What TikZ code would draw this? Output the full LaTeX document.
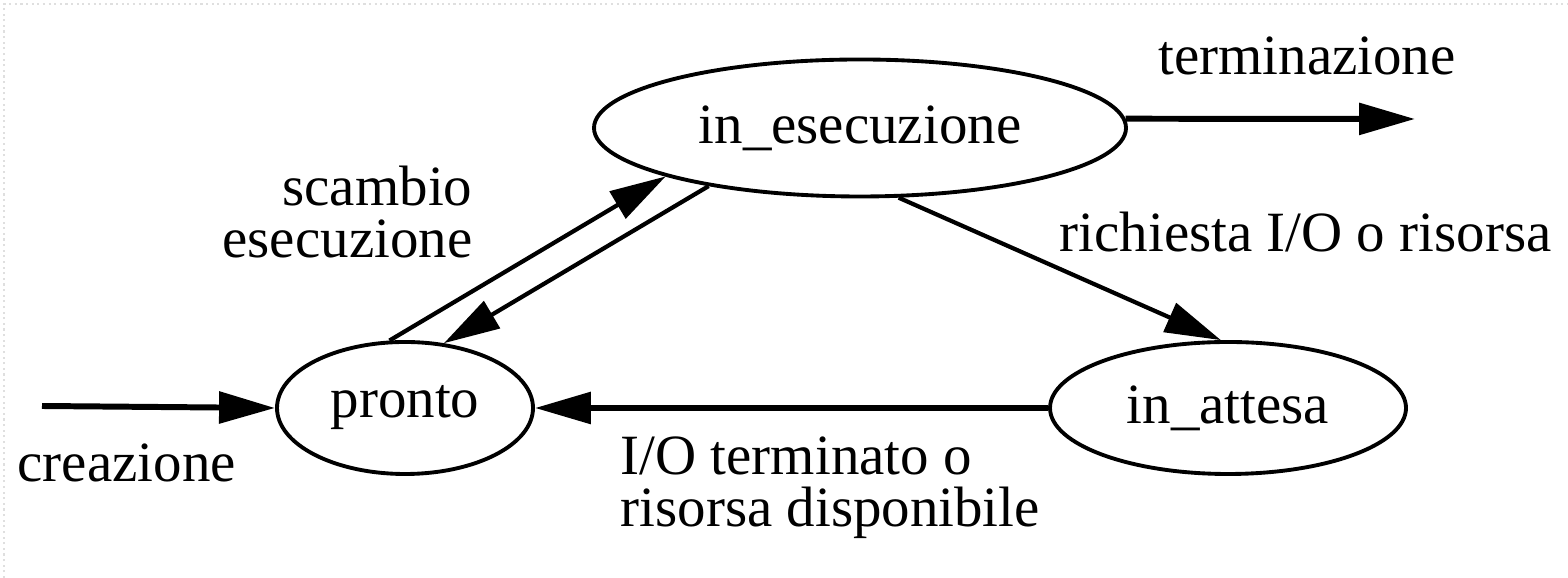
\documentclass[tikz,border=0pt]{standalone}
\usepackage{fontspec}
\setmainfont{Liberation Serif}
\usetikzlibrary{arrows.meta,shapes.geometric}

\begin{document}
\begin{tikzpicture}[font=\fontsize{16.2}{14.8}\selectfont,
  >={Triangle[length=5.6mm,width=3.1mm]},
  state/.style={draw,ellipse,line width=1.1pt,inner sep=0pt,minimum height=1.32cm},
  thickarrow/.style={->,line width=1.7pt},
  thinarrow/.style={->,line width=1.2pt}]
  \useasboundingbox (0,0) rectangle (15.68,5.78);
  % bordo tratteggiato
  \draw[gray!25,densely dotted,line width=0.6pt] (0.04,0) -- (0.04,5.74) -- (15.68,5.74);
  % stati
  \node[state,minimum width=5.32cm,minimum height=1.37cm] (esec) at (8.60,4.50) {in\_esecuzione};
  \node[state,minimum width=2.56cm] (pronto) at (4.05,1.70) {pronto};
  \node[state,minimum width=3.56cm] (attesa) at (12.28,1.70) {in\_attesa};
  % estremi liberi
  \coordinate (start) at (0.42,1.72);
  \coordinate (stop) at (14.15,4.59);
  % transizioni
  \draw[thickarrow] (start) -- (pronto.west);
  \draw[thickarrow] (attesa.west) -- (pronto.east);
  \draw[thickarrow] (esec.2) -- (stop);
  \draw[thinarrow] (pronto.103) -- (esec.194);
  \draw[thinarrow] (esec.201) -- (pronto.59);
  \draw[thinarrow] (esec.299) -- (attesa.96);
  % etichette
  \node[anchor=base west,inner sep=0pt] (lcrea) at (0.17,0.96) {creazione};
  \node[anchor=base,inner sep=0pt] (lterm) at (13.07,5.03) {terminazione};
  \node[anchor=base west,inner sep=0pt] (lrich) at (10.59,3.26) {richiesta I/O o risorsa};
  \node[anchor=base east,inner sep=0pt,align=right] (lscam) at (4.73,3.20) {scambio\\esecuzione};
  \node[anchor=base west,inner sep=0pt,align=left] (lfine) at (6.20,0.51) {I/O terminato o\\risorsa disponibile};
\end{tikzpicture}
\end{document}
